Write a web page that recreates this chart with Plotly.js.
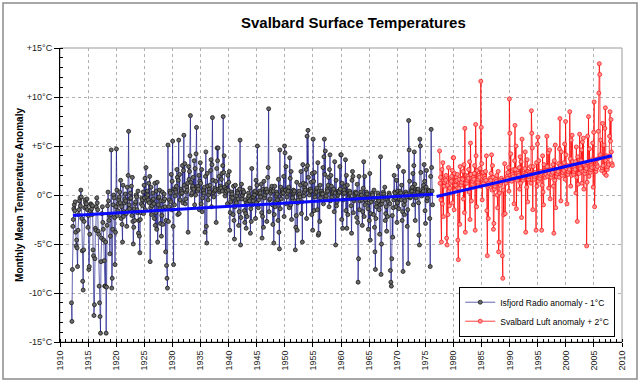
<!DOCTYPE html>
<html>
<head>
<meta charset="utf-8">
<script src="https://cdn.plot.ly/plotly-3.0.1.min.js"></script>
<style>
html,body{margin:0;padding:0;background:#fff;}
#chart{width:640px;height:382px;}
</style>
</head>
<body>
<div id="chart"></div>
<script>
// Isfjord Radio anomaly - 1°C, monthly values starting January 1912 (one row per year)
var isfjordStartYear = 1912;
var isfjordValues = [
-11.0,-12.9,-7.6,-3.2,-2.5,-1.4,-1.0,-1.6,-0.7,-3.8,-5.2,-4.6,
-5.4,-7.3,-3.6,-2.0,-1.5,-0.6,-0.3,-1.1,0.5,-0.2,-2.4,-5.7,
-8.8,-9.7,-5.6,-2.7,-1.3,-0.5,-0.8,-1.2,-0.9,-0.4,-1.5,-3.3,
-2.1,-7.6,-7.3,-4.0,-1.6,-0.9,-1.0,-1.4,-2.0,-1.1,-5.6,-6.2,
-12.3,-11.2,-6.5,-3.4,-3.6,-1.2,-0.3,-0.8,-1.5,-3.7,-4.0,-9.3,
-11.0,-12.4,-14.1,-6.8,-4.4,-1.9,-1.2,-2.8,-3.5,-4.6,-6.7,-9.3,
-9.3,-4.8,-14.1,-9.4,-3.1,-1.1,0.3,-0.6,-2.6,-2.1,-6.0,-4.2,
-2.0,4.6,-9.5,-8.5,-3.5,-1.0,0.0,-0.3,-2.3,-7.1,-3.8,-1.2,
4.7,0.5,-2.1,-1.6,-0.9,-0.5,-0.2,0.3,-0.8,1.5,-2.4,-1.2,
-3.0,-4.8,1.0,-2.2,-1.7,-0.8,-0.4,0.1,-0.6,-1.9,-3.2,0.8,
-1.6,2.0,6.5,-1.0,-1.4,-0.4,0.2,-0.3,0.9,-2.1,1.8,-2.7,
-5.0,-3.3,-1.4,-2.6,-0.9,-0.7,0.0,-0.2,-1.5,-1.8,0.4,-3.9,
-2.6,-4.2,-5.9,-2.5,-1.8,-0.9,-0.3,-0.5,-1.1,0.3,-1.9,1.0,
-0.3,1.7,-1.5,2.8,-0.6,-0.2,0.4,0.0,-0.5,1.2,-0.8,1.9,
-6.8,-1.3,0.8,-2.0,-1.1,-0.5,0.2,-0.4,-0.9,-2.4,1.2,-3.1,
-1.8,0.4,-3.5,1.3,-4.8,-1.0,-0.3,-0.2,0.5,-1.4,-2.9,-0.6,
-4.2,-2.1,0.3,-3.0,-1.3,-0.6,0.1,-0.4,-1.2,-5.8,-2.6,-7.2,
-8.5,-9.5,5.1,-2.7,-1.2,-0.5,0.4,0.2,-0.7,2.1,-1.5,1.4,
5.5,-3.2,-7.1,0.6,-1.0,-0.1,0.5,0.3,0.9,2.6,1.8,-2.0,
1.5,5.6,-1.9,2.1,-0.5,0.1,0.6,0.4,0.2,3.0,-0.8,2.5,
6.1,1.0,3.2,-0.9,-0.4,0.3,0.8,0.5,1.2,-3.8,2.9,1.6,
2.4,4.0,8.1,1.3,0.0,0.2,0.7,0.9,1.8,0.6,3.5,-1.0,
2.7,0.0,4.2,6.9,0.8,0.4,0.9,0.6,2.0,-1.5,1.4,3.3,
1.2,-0.9,2.6,-1.7,-0.3,0.3,0.5,0.2,0.8,-3.8,1.9,4.4,
-3.2,-4.9,2.2,0.9,-0.5,0.0,0.6,0.3,1.0,2.5,3.6,-1.2,
3.1,7.9,1.5,0.2,-0.2,0.4,0.7,0.5,1.4,-2.8,2.7,4.8,
3.5,4.8,0.6,1.9,0.3,0.5,0.9,0.7,1.6,2.2,0.4,3.0,
8.0,2.3,4.0,0.8,-0.1,0.2,0.6,0.4,1.1,-0.9,2.0,0.5,
1.3,2.4,-3.6,-1.8,-0.7,-0.2,0.3,0.1,-0.3,-2.0,0.9,-2.6,
-4.5,-1.2,1.0,-0.6,-0.8,-0.1,0.4,0.2,-0.4,-3.1,-1.7,0.6,
5.6,-5.1,-2.3,1.1,-0.4,0.0,0.5,0.2,0.3,-1.6,-2.8,-0.5,
-1.9,-3.4,-0.8,-2.2,-0.9,-0.3,0.2,-0.1,-0.6,0.7,-3.9,-1.4,
-2.7,2.7,-1.0,-0.2,-0.6,-0.2,0.3,0.0,0.4,-2.4,1.5,-0.8,
1.0,5.0,0.2,-1.3,-0.5,0.1,0.4,0.2,-0.2,1.1,-1.8,-4.4,
-2.2,0.6,-3.3,1.4,-0.3,0.0,0.5,0.3,0.6,-2.7,0.3,1.8,
2.8,8.8,-1.7,-0.5,-0.4,0.2,0.6,0.4,0.9,-1.0,-3.0,0.4,
-4.9,-2.0,0.9,-1.2,-0.7,-0.1,0.3,0.1,-0.5,-2.6,1.6,-3.8,
-5.5,4.6,-1.4,0.8,-0.4,0.1,0.5,0.3,0.2,1.9,-2.2,5.0,
4.3,0.5,2.9,-0.9,-0.2,0.2,0.6,0.4,0.8,-1.3,3.8,1.7,
-1.0,2.4,-2.5,0.3,-0.3,0.1,0.5,0.2,0.4,-0.6,-5.6,-3.3,
-2.1,1.3,-3.6,-0.8,-0.5,0.0,0.4,0.1,-0.2,1.0,2.4,-1.9,
-0.7,-4.8,3.1,1.2,-0.1,0.3,0.7,0.5,1.1,2.6,-2.4,6.0,
3.0,6.6,1.8,0.5,0.0,0.3,0.6,0.4,1.3,-2.0,2.2,-3.6,
5.7,1.4,-1.6,2.3,-0.2,0.2,0.5,0.3,0.7,-1.5,3.3,-4.1,
-3.9,0.4,-2.7,1.0,-0.3,0.1,0.4,0.2,0.1,2.8,-0.9,3.9,
5.7,2.1,4.5,-0.4,-0.1,0.3,0.6,0.4,1.0,1.8,-1.2,2.6,
4.1,-0.6,2.0,0.9,-0.2,0.2,0.5,0.3,0.6,-1.7,3.4,0.2,
-5.1,1.5,-1.1,-0.7,-0.4,0.0,0.4,0.2,0.3,2.9,0.6,4.1,
4.1,-2.5,1.2,-3.4,-0.5,0.1,0.5,0.2,0.9,3.6,-1.6,2.0,
-3.4,1.0,-2.0,0.4,-0.3,0.1,0.4,0.2,-0.4,-1.1,-3.9,1.5,
2.4,1.9,-1.8,-0.6,-0.4,0.0,0.3,0.1,0.2,-2.3,1.1,-2.8,
-8.9,-6.5,1.9,-1.5,-0.6,-0.1,0.3,0.0,-0.5,-3.1,-1.7,0.7,
3.4,-2.2,1.9,-1.0,-0.5,0.0,0.3,0.1,-0.3,-1.4,-3.5,-0.8,
-2.6,2.2,-4.6,-1.9,-0.7,-0.2,0.2,0.0,-0.4,-2.0,0.5,-3.3,
-5.8,-7.6,-2.4,-1.2,-0.8,-0.3,0.2,-0.1,-0.6,-1.5,-4.0,-1.0,
3.9,-8.1,-5.0,-0.9,-0.6,-0.1,0.3,0.1,-0.2,0.8,-2.6,-1.9,
-1.2,-3.7,-0.5,-2.2,-0.7,-0.2,0.2,0.0,-0.9,-7.7,-8.9,-9.3,
-6.5,-2.1,-4.3,-1.3,-0.5,2.0,0.3,0.2,-0.3,-1.2,1.5,-2.8,
-0.8,0.4,2.9,-1.4,-0.4,0.1,0.4,0.2,-0.5,1.0,-2.6,-1.7,
-7.8,2.4,-1.0,-2.0,-0.6,0.0,0.3,0.1,-0.2,-3.2,-1.5,-7.0,
7.6,4.6,1.4,-0.3,-0.2,0.3,0.6,0.4,0.8,2.2,-1.0,3.0,
4.4,1.1,-2.6,0.6,-0.3,0.2,0.5,0.3,0.6,-0.8,-4.1,-5.1,
5.7,5.0,2.3,0.2,-0.1,0.3,0.6,0.4,1.0,3.1,1.4,-1.6,
-2.9,0.8,2.5,-0.6,-0.3,0.1,0.5,0.3,0.4,-2.4,-7.3,1.9,
6.7,2.8,0.4,-1.0
];

// Svalbard Luft anomaly + 2°C, monthly values starting July 1977
var luftStartYear = 1977.5;
var luftValues = [
4.5,1.2,1.8,-0.5,-4.8,2.6,
-0.9,3.3,-2.2,1.5,0.9,1.3,1.7,1.5,2.0,-4.4,-5.1,1.0,
-2.0,2.8,0.4,-1.1,0.7,1.2,1.6,1.4,1.9,2.5,-0.8,3.8,
3.8,-1.5,2.2,0.5,1.0,1.4,1.8,1.5,2.1,-4.6,-6.6,0.7,
1.6,-3.0,2.9,1.1,1.0,1.3,1.7,1.6,2.4,-0.4,3.1,-1.8,
6.8,-3.8,1.2,2.0,1.2,1.5,1.9,1.7,2.6,0.3,3.4,-2.5,
5.3,2.1,-0.6,1.7,1.1,1.4,1.8,1.6,2.2,3.0,-3.6,7.2,
4.0,-1.2,2.5,1.4,1.3,1.6,2.0,1.8,2.7,0.9,11.6,6.9,
3.2,-0.5,1.9,2.3,1.2,1.5,1.9,1.7,2.4,1.5,4.0,-1.6,
-6.2,0.8,-2.4,1.0,1.0,1.3,1.7,1.5,2.2,4.1,0.5,3.0,
1.8,-3.5,-2.9,0.6,0.9,1.2,1.6,1.4,2.0,0.0,-1.3,2.4,
-5.8,-4.8,0.2,1.1,1.0,1.3,1.7,1.5,-6.2,-8.5,0.5,-2.0,
1.5,3.2,-1.9,1.6,1.2,1.5,1.9,1.7,2.3,2.8,0.4,9.8,
6.3,2.0,4.2,1.8,1.4,1.7,2.1,1.9,2.6,-0.9,3.5,7.1,
2.6,5.0,-1.4,2.2,1.5,1.8,2.2,2.0,2.8,0.6,3.9,1.2,
3.4,-2.3,5.7,1.9,1.5,1.8,2.2,2.0,2.7,4.4,-3.8,2.1,
0.8,3.6,-0.7,2.4,1.6,1.9,2.3,2.1,2.9,1.2,8.6,6.3,
4.8,-1.5,2.9,2.0,1.6,1.9,2.3,2.1,-3.6,3.3,0.9,5.2,
5.9,1.4,3.5,2.3,1.7,2.0,2.4,2.2,-3.6,1.0,4.0,0.3,
-1.0,3.1,2.0,2.5,1.8,2.1,2.5,6.0,2.9,1.9,4.3,0.7,
2.2,4.6,-0.4,2.6,1.8,2.1,2.5,2.3,3.1,0.9,-3.9,3.5,
1.5,5.1,-1.3,2.4,1.9,2.2,2.6,2.4,3.2,1.8,4.7,7.8,
3.0,-0.6,4.4,2.8,2.0,2.3,2.7,2.5,3.3,5.2,1.6,7.5,
4.1,2.7,-0.9,3.0,2.1,2.4,2.8,2.6,8.5,3.7,0.9,5.6,
2.0,6.1,3.4,2.9,2.1,2.4,2.8,2.6,3.4,0.2,4.9,1.8,
-2.7,3.9,1.1,3.2,2.2,6.2,2.9,2.7,3.5,4.6,1.2,5.4,
2.4,5.8,0.6,3.1,2.2,2.5,2.9,2.7,-5.2,1.3,6.0,3.3,
8.0,1.9,4.7,3.4,2.3,2.6,3.0,2.8,3.6,5.3,0.8,6.4,
9.5,-1.2,2.8,3.6,2.4,2.7,3.1,2.9,3.7,6.5,10.4,13.4,
12.3,4.1,5.6,3.8,2.5,2.8,7.3,3.0,3.8,5.1,2.2,6.8,
8.9,3.5,2.0,4.0,2.6,2.9,3.3,3.1,3.9,6.0,8.5,5.5,
7.7,4.4,3.2,3.0
];

// Linear trend end points
var isfjordTrendYears = [1912.3, 1976.4];
var isfjordTrendValues = [-2.1, 0.07];
var luftTrendYears = [1977.0, 2008.2];
var luftTrendValues = [-0.15, 4.0];

// Axis ticks
var yTickValues = [-15, -10, -5, 0, 5, 10, 15];
var yTickLabels = ["-15°C", "-10°C", "-5°C", "0°C", "+5°C", "+10°C", "+15°C"];
var xTickValues = [1910,1915,1920,1925,1930,1935,1940,1945,1950,1955,1960,1965,1970,1975,1980,1985,1990,1995,2000,2005,2010];

var seriesNames = ["Isfjord Radio anomaly - 1°C", "Svalbard Luft anomaly + 2°C"];

function monthlyYears(start, n) {
  var out = [];
  for (var i = 0; i < n; i++) out.push(start + (i + 0.5) / 12);
  return out;
}

var FONT = "Arial, 'Liberation Sans', sans-serif";

var traces = [
  {
    x: monthlyYears(isfjordStartYear, isfjordValues.length),
    y: isfjordValues,
    type: "scatter",
    mode: "lines+markers",
    name: seriesNames[0],
    line: {color: "rgba(15,15,130,0.65)", width: 1},
    marker: {symbol: "circle", size: 4, color: "#6a6a6a", line: {color: "#1a1a1a", width: 0.8}},
    hoverinfo: "skip"
  },
  {
    x: monthlyYears(luftStartYear, luftValues.length),
    y: luftValues,
    type: "scatter",
    mode: "lines+markers",
    name: seriesNames[1],
    line: {color: "rgba(255,0,0,0.75)", width: 1},
    marker: {symbol: "circle", size: 4, color: "#ff9090", line: {color: "#ff2020", width: 0.8}},
    hoverinfo: "skip"
  },
  {
    x: isfjordTrendYears, y: isfjordTrendValues, type: "scatter", mode: "lines",
    line: {color: "#0a0aff", width: 3}, showlegend: false, hoverinfo: "skip"
  },
  {
    x: luftTrendYears, y: luftTrendValues, type: "scatter", mode: "lines",
    line: {color: "#0a0aff", width: 3}, showlegend: false, hoverinfo: "skip"
  }
];

var layout = {
  width: 640, height: 382,
  margin: {l: 60, r: 18, t: 48, b: 40, pad: 0},
  paper_bgcolor: "#ffffff",
  plot_bgcolor: "#ffffff",
  font: {family: FONT, size: 9, color: "#222"},
  title: {
    text: "<b>Svalbard Surface Temperatures</b>",
    font: {family: FONT, size: 15, color: "#000"},
    x: 0.522, xanchor: "center", xref: "paper",
    y: 0.94, yanchor: "middle", yref: "container"
  },
  showlegend: true,
  legend: {
    x: 0.988, xanchor: "right", y: 0.018, yanchor: "bottom",
    bgcolor: "#ffffff", bordercolor: "#000", borderwidth: 1,
    font: {family: FONT, size: 8.5, color: "#000"},
    tracegroupgap: 2, itemwidth: 30
  },
  xaxis: {
    range: [1910, 2010],
    tickvals: xTickValues,
    ticktext: xTickValues.map(String),
    tickangle: -90,
    tickfont: {family: FONT, size: 9, color: "#222"},
    ticks: "outside", ticklen: 4, tickcolor: "#000",
    showline: true, linecolor: "#000", linewidth: 1,
    showgrid: true, gridcolor: "#b0b0b0", griddash: "dot", gridwidth: 1,
    zeroline: false,
    minor: {ticks: "inside", dtick: 1, ticklen: 3, tickcolor: "#000", showgrid: false},
    fixedrange: true
  },
  yaxis: {
    range: [-15, 15],
    tickvals: yTickValues,
    ticktext: yTickLabels,
    tickfont: {family: FONT, size: 9, color: "#222"},
    ticks: "outside", ticklen: 5, tickcolor: "#000",
    showline: true, linecolor: "#000", linewidth: 1,
    showgrid: true, gridcolor: "#b0b0b0", griddash: "dot", gridwidth: 1,
    zeroline: false,
    minor: {ticks: "inside", dtick: 1, ticklen: 3, tickcolor: "#000", showgrid: false},
    title: {text: "<b>Monthly Mean Temperature Anomaly</b>", font: {family: FONT, size: 10, color: "#000"}, standoff: 1},
    fixedrange: true
  },
  shapes: [
    {type: "rect", xref: "paper", yref: "paper", x0: 0, x1: 1, y0: 0, y1: 1,
     line: {color: "#999", width: 1}, layer: "below"},
    {type: "rect", xref: "paper", yref: "paper", x0: -0.1014, x1: 1.0267, y0: -0.1259, y1: 1.153,
     line: {color: "#8a8a8a", width: 1.5}, layer: "below"}
  ]
};

Plotly.newPlot("chart", traces, layout, {staticPlot: true, displayModeBar: false});
</script>
</body>
</html>
